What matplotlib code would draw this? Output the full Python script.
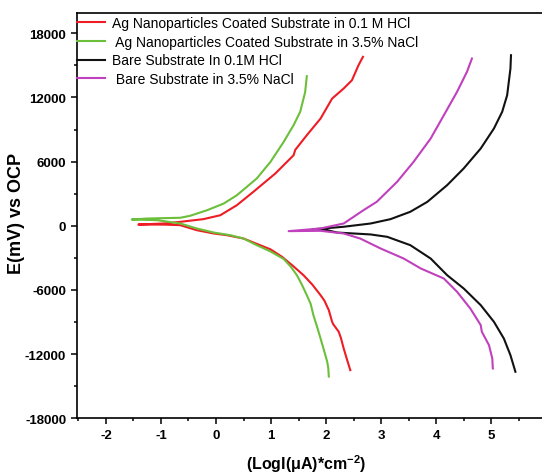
import matplotlib
matplotlib.use("Agg")
import matplotlib.pyplot as plt
from matplotlib.ticker import MultipleLocator

plt.rcParams['font.family'] = 'Liberation Sans'
plt.rcParams['mathtext.fontset'] = 'custom'
plt.rcParams['mathtext.bf'] = 'Liberation Sans:bold'
plt.rcParams['mathtext.rm'] = 'Liberation Sans:bold'
plt.rcParams['mathtext.default'] = 'bf'
plt.rcParams['axes.unicode_minus'] = False

# Tafel curves: path runs cathodic bottom -> corrosion point -> anodic top
ag_hcl_x = [2.44, 2.38, 2.32, 2.27, 2.23, 2.13, 2.11, 2.05, 1.97, 1.90, 1.75, 1.59, 1.41, 1.20, 0.99, 0.80, 0.50, 0.20, -0.04, -0.35, -0.65, -0.95, -1.41,
            -0.95, -0.65, -0.23, 0.08, 0.38, 0.68, 1.08, 1.41, 1.44, 1.65, 1.90, 2.11, 2.32, 2.47, 2.59, 2.67]
ag_hcl_y = [-13500, -12500, -11470, -10500, -9910, -9200, -8980, -7890, -7000, -6490, -5500, -4620, -3800, -2900, -2200, -1810, -1190, -880, -720, -410, 60, 110, 120,
            215, 370, 620, 990, 1930, 3180, 4900, 6600, 7100, 8470, 10030, 11900, 12840, 13610, 15020, 15800]

ag_nacl_x = [2.05, 2.04, 2.02, 1.96, 1.90, 1.84, 1.77, 1.72, 1.65, 1.56, 1.47, 1.36, 1.23, 0.99, 0.74, 0.50, 0.26, -0.04, -0.35, -0.65, -1.07, -1.53,
             -1.25, -0.65, -0.47, -0.16, 0.14, 0.38, 0.74, 0.99, 1.23, 1.41, 1.53, 1.62, 1.65]
ag_nacl_y = [-14100, -13300, -12700, -11600, -10540, -9500, -8360, -7300, -6490, -5500, -4620, -3830, -3100, -2400, -1810, -1190, -880, -630, -250, 215, 525, 590,
             680, 750, 935, 1460, 2080, 2860, 4420, 5980, 7850, 9410, 10660, 12500, 13990]

bare_hcl_x = [5.44, 5.35, 5.23, 5.05, 4.81, 4.50, 4.20, 3.90, 3.53, 3.11, 2.81, 2.20, 2.02, 1.75,
              1.96, 2.32, 2.81, 3.17, 3.53, 3.84, 4.20, 4.50, 4.81, 5.05, 5.20, 5.29, 5.35, 5.36]
bare_hcl_y = [-13650, -12100, -10540, -8980, -7420, -5860, -4620, -3060, -1810, -1030, -810, -630, -410, -320,
              -250, -90, 215, 620, 1310, 2240, 3800, 5360, 7230, 9100, 10660, 12210, 14710, 15950]

bare_nacl_x = [5.03, 5.02, 4.96, 4.83, 4.81, 4.62, 4.38, 4.14, 3.72, 3.41, 2.99, 2.62, 2.32, 1.90, 1.32,
               1.90, 2.32, 2.68, 2.92, 3.29, 3.59, 3.90, 4.14, 4.38, 4.56, 4.65]
bare_nacl_y = [-13340, -12410, -11160, -9910, -9290, -7730, -6170, -4930, -3990, -3060, -2120, -1190, -720, -470, -500,
               -250, 215, 1460, 2240, 4110, 5980, 8160, 10340, 12530, 14400, 15640]

labels = ["Ag Nanoparticles Coated Substrate in 0.1 M HCl",
          " Ag Nanoparticles Coated Substrate in 3.5% NaCl",
          "Bare Substrate In 0.1M HCl",
          " Bare Substrate in 3.5% NaCl"]
colors = ['#ee1c24', '#6cbf3a', '#111111', '#c040bd']
xticks = [-2, -1, 0, 1, 2, 3, 4, 5]

fig = plt.figure(figsize=(5.42, 4.77), dpi=100)
ax = fig.add_axes([0.1426, 0.121, 0.8916, 0.849])

series = [(ag_hcl_x, ag_hcl_y), (ag_nacl_x, ag_nacl_y), (bare_hcl_x, bare_hcl_y), (bare_nacl_x, bare_nacl_y)]
for (xs, ys), lab, c in zip(series, labels, colors):
    ax.plot(xs, ys, color=c, lw=1.5, label=lab)

ax.set_xlim(-2.52, 6.26)
ax.set_ylim(-18000, 19870)
ax.set_xticks(xticks)
ax.xaxis.set_minor_locator(MultipleLocator(0.5))
ax.yaxis.set_major_locator(MultipleLocator(6000))
ax.yaxis.set_minor_locator(MultipleLocator(3000))
ax.tick_params(which='major', direction='out', length=4.5, width=1.1, labelsize=9.5)
ax.tick_params(which='minor', direction='out', length=2.5, width=1.1)
for lab in ax.get_xticklabels() + ax.get_yticklabels():
    lab.set_fontweight('bold')
for s in ax.spines.values():
    s.set_linewidth(1.2)

ax.set_ylabel("E(mV) vs OCP", fontsize=13, fontweight='bold')
ax.yaxis.set_label_coords(-0.108, 0.509)
ax.set_xlabel(r"(LogI($\mu$A)*cm$^{-2}$)", fontsize=11.5, fontweight='bold')
ax.xaxis.set_label_coords(0.473, -0.085)

ax.legend(loc='upper left', bbox_to_anchor=(0.0, 0.994), frameon=False, fontsize=10,
          handlelength=2.0, handletextpad=0.5, borderaxespad=0, borderpad=0,
          labelspacing=0.35)

fig.savefig("out.png", dpi=100, facecolor='white')
